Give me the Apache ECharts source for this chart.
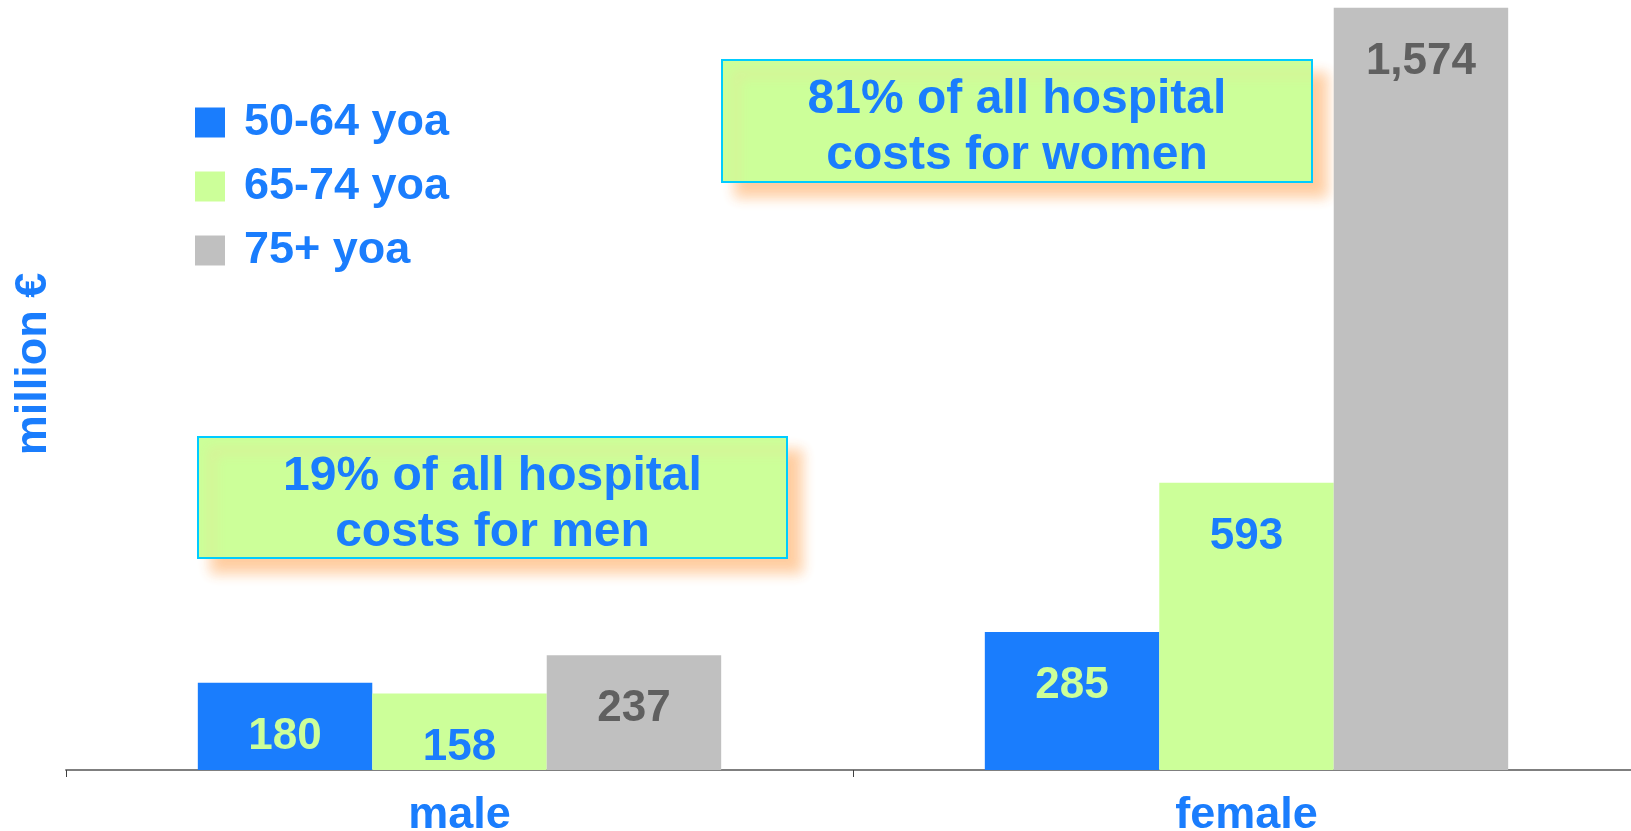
<!DOCTYPE html>
<html>
<head>
<meta charset="utf-8">
<title>Hospital costs by sex and age</title>
<script src="https://cdn.jsdelivr.net/npm/echarts@6/dist/echarts.min.js"></script>
<style>
  html, body { margin: 0; padding: 0; background: #fff; }
  #chart { width: 1631px; height: 831px; }
</style>
</head>
<body>
<div id="chart"></div>
<script>
// data
const categories = ['male', 'female']
const seriesNames = ['50-64 yoa', '65-74 yoa', '75+ yoa']
const age5064 = [180, 285]
const age6574 = [158, 593]
const age75plus = [237, 1574]
const yTitle = 'million €'
const noteMen = ['19% of all hospital', 'costs for men']
const noteWomen = ['81% of all hospital', 'costs for women']

const FONT = '"Liberation Sans", Arial, sans-serif'
const BLUE = '#1a7dfd'
const GREEN = '#ccff99'
const GRAY = '#c0c0c0'

const chart = echarts.init(document.getElementById('chart'))

function barSeries(name, data, color, labelColor) {
  return {
    name: name,
    type: 'bar',
    barGap: '0%',
    barCategoryGap: '33.5%',
    itemStyle: { color: color },
    label: {
      show: true,
      position: 'insideTop',
      distance: 32,
      color: labelColor,
      fontFamily: FONT,
      fontWeight: 'bold',
      fontSize: 44,
      formatter(p) {
        return p.value.toLocaleString('en-US')
      }
    },
    data: data
  }
}

function noteBox(x, y, w, h, lines) {
  return {
    type: 'group',
    left: x,
    top: y,
    children: [
      {
        type: 'rect',
        shape: { x: 0, y: 0, width: w, height: h },
        style: {
          fill: GREEN,
          stroke: '#00ccff',
          lineWidth: 2,
          shadowBlur: 12,
          shadowOffsetX: 14,
          shadowOffsetY: 14,
          shadowColor: 'rgba(255,200,150,0.9)'
        }
      },
      {
        type: 'text',
        x: w / 2,
        y: h / 2 + 7,
        style: {
          text: lines.join('\n'),
          fill: BLUE,
          font: 'bold 48px ' + FONT,
          lineHeight: 56,
          align: 'center',
          verticalAlign: 'middle'
        }
      }
    ]
  }
}

chart.setOption({
  backgroundColor: '#fff',
  animation: false,
  grid: {
    left: 66,
    right: -9,
    top: 0,
    bottom: 61,
    outerBoundsMode: 'none'
  },
  legend: {
    orient: 'vertical',
    left: 190,
    top: 95,
    icon: 'rect',
    itemWidth: 30,
    itemHeight: 30,
    itemGap: 19,
    textStyle: {
      color: BLUE,
      fontFamily: FONT,
      fontWeight: 'bold',
      fontSize: 45,
      padding: [0, 0, 0, 14]
    },
    data: seriesNames
  },
  xAxis: {
    type: 'category',
    data: categories,
    axisLine: { lineStyle: { color: '#7f7f7f', width: 2 } },
    axisTick: { show: true, length: 7, lineStyle: { color: '#404040', width: 1 } },
    axisLabel: {
      margin: 23,
      color: BLUE,
      fontFamily: FONT,
      fontWeight: 'bold',
      fontSize: 45
    }
  },
  yAxis: {
    type: 'value',
    min: 0,
    max: 1590,
    axisLine: { show: false },
    axisTick: { show: false },
    axisLabel: { show: false },
    splitLine: { show: false }
  },
  graphic: [
    {
      type: 'text',
      x: 34,
      y: 364,
      rotation: Math.PI / 2,
      style: {
        text: yTitle,
        fill: BLUE,
        font: 'bold 45px ' + FONT,
        align: 'center',
        verticalAlign: 'middle'
      }
    },
    noteBox(197, 436, 589, 121, noteMen),
    noteBox(721, 59, 590, 122, noteWomen)
  ],
  series: [
    barSeries(seriesNames[0], age5064, BLUE, GREEN),
    barSeries(seriesNames[1], age6574, GREEN, BLUE),
    barSeries(seriesNames[2], age75plus, GRAY, '#606060')
  ]
})
</script>
</body>
</html>
